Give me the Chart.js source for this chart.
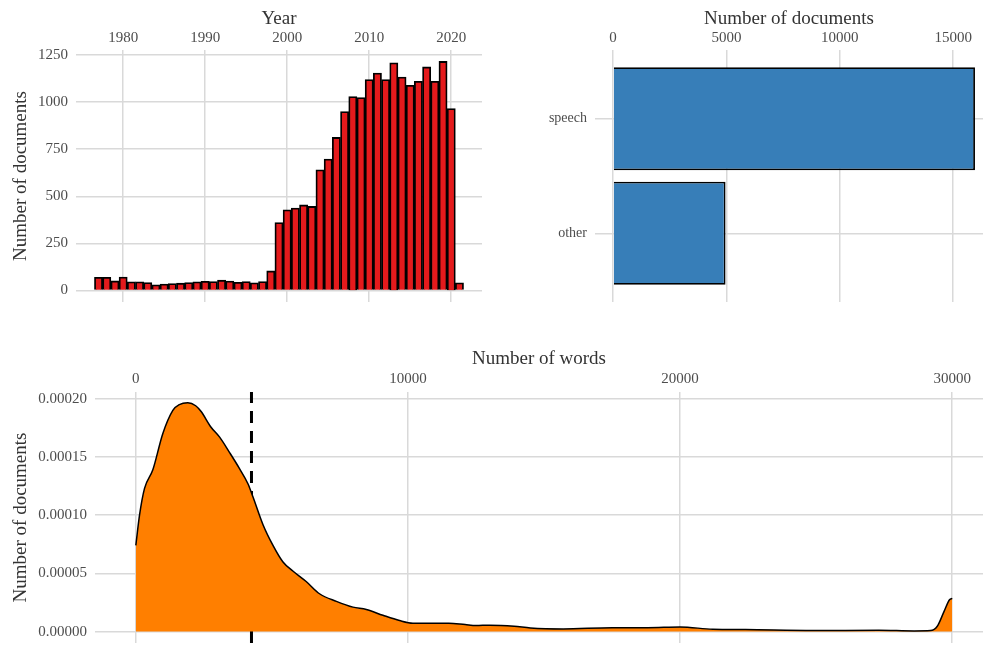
<!DOCTYPE html>
<html>
<head>
<meta charset="utf-8">
<script src="https://cdn.jsdelivr.net/npm/chart.js@4.4.0/dist/chart.umd.min.js"></script>
<style>
  body { margin: 0; background: #fff; }
  #wrap { position: relative; width: 983px; height: 646px; }
  canvas { position: absolute; }
</style>
</head>
<body>
<div id="wrap">
  <canvas id="yearChart" width="490" height="310" style="left:0;top:0;width:490px;height:310px"></canvas>
  <canvas id="typeChart" width="493" height="310" style="left:490px;top:0;width:493px;height:310px"></canvas>
  <canvas id="wordsChart" width="983" height="326" style="left:0;top:320px;width:983px;height:326px"></canvas>
</div>
<script>
// documents per year
const years = [1977, 1978, 1979, 1980, 1981, 1982, 1983, 1984, 1985, 1986, 1987, 1988, 1989, 1990, 1991,
  1992, 1993, 1994, 1995, 1996, 1997, 1998, 1999, 2000, 2001, 2002, 2003, 2004, 2005, 2006, 2007, 2008,
  2009, 2010, 2011, 2012, 2013, 2014, 2015, 2016, 2017, 2018, 2019, 2020, 2021];
const yearCounts = [70, 70, 51, 72, 46, 46, 42, 30, 34, 37, 39, 42, 46, 49, 48,
  55, 50, 44, 48, 41, 48, 104, 361, 428, 437, 454, 446, 640, 697, 812, 949, 1029,
  1024, 1119, 1153, 1119, 1208, 1132, 1089, 1110, 1186, 1110, 1215, 965, 41];
const yearTicks = [1980, 1990, 2000, 2010, 2020];
const countTicks = [0, 250, 500, 750, 1000, 1250];

// documents per type
const docTypes = ['speech', 'other'];
const docTypeCounts = [15960, 4960];
const typeTicks = [0, 5000, 10000, 15000];

// density of number of words
const wordsX = [0, 136, 320, 625, 990, 1360, 1600, 1910, 2200, 2400, 2750, 3080, 3440, 3810, 4120, 4300,
  4670, 5040, 5400, 5770, 6260, 6750, 7370, 7980, 8470, 9080, 9690, 10180, 10900, 11500, 12100,
  12500, 13000, 13900, 14500, 15700, 17500, 18800, 20000, 21200, 22400, 24900, 27300, 28600, 29200,
  29450, 29700, 29900, 30000];
const wordsDensity = [7.4, 10.0, 12.3, 13.9, 17.0, 19.0, 19.5, 19.65, 19.4, 18.9, 17.6, 16.7, 15.4, 14.0,
  12.7, 11.6, 9.2, 7.4, 6.0, 5.2, 4.3, 3.25, 2.6, 2.1, 1.9, 1.4, 0.95, 0.72, 0.71, 0.72, 0.6,
  0.52, 0.55, 0.46, 0.31, 0.23, 0.34, 0.34, 0.4, 0.2, 0.17, 0.09, 0.11, 0.06, 0.09, 0.46, 1.74, 2.74, 2.85]
  .map(v => v * 1e-5);
const meanWords = 4250;
const densityTicks = [0, 0.00005, 0.0001, 0.00015, 0.0002];
const wordTicks = [0, 10000, 20000, 30000];

const serif = "'Liberation Serif', 'DejaVu Serif', serif";
const gridColor = '#d9d9d9';
const tickFont = { family: serif, size: 15 };
const titleFont = { family: serif, size: 19 };

function fixedTicks(values) {
    return function(scale) {
        scale.ticks = values.map(v => ({ value: v }));
    };
}

// fixed axis box size, and no extra room for overflowing labels
function fixedSize(size) {
    return function(scale) {
        if (scale.isHorizontal()) {
            scale.height = size;
        } else {
            scale.width = size;
        }
        scale.paddingTop = 0;
        scale.paddingBottom = 0;
        scale.paddingLeft = 0;
        scale.paddingRight = 0;
    };
}

function plainLabel(value) {
    return String(value);
}

document.addEventListener('DOMContentLoaded', function() {
    initializeCharts();
});

function initializeCharts() {
    // Year histogram
    new Chart(document.getElementById('yearChart'), {
        type: 'bar',
        data: {
            datasets: [{
                data: years.map((y, i) => ({ x: y, y: yearCounts[i] })),
                backgroundColor: '#E41A1C',
                borderColor: '#000',
                borderWidth: 1.8,
                barPercentage: 1,
                categoryPercentage: 1
            }]
        },
        options: {
            responsive: false,
            animation: false,
            layout: { padding: { right: 8, bottom: 8 } },
            plugins: { legend: { display: false }, tooltip: { enabled: false } },
            scales: {
                x: {
                    type: 'linear',
                    position: 'top',
                    offset: false,
                    min: 1974.25,
                    max: 2023.75,
                    afterBuildTicks: fixedTicks(yearTicks),
                    afterFit: fixedSize(50),
                    grid: { color: gridColor, lineWidth: 1.5, drawTicks: false, offset: false },
                    border: { display: false },
                    ticks: { font: tickFont, color: '#4d4d4d', padding: 3, maxRotation: 0, callback: plainLabel },
                    title: { display: true, text: 'Year', font: titleFont, color: '#333', padding: { top: 8 } }
                },
                y: {
                    min: -60.75,
                    max: 1275.75,
                    afterBuildTicks: fixedTicks(countTicks),
                    afterFit: fixedSize(76),
                    grid: { color: gridColor, lineWidth: 1.5, drawTicks: false },
                    border: { display: false },
                    ticks: { font: tickFont, color: '#4d4d4d', padding: 8, callback: plainLabel },
                    title: { display: true, text: 'Number of documents', font: titleFont, color: '#333', padding: { top: 10 } }
                }
            }
        }
    });

    // Document types
    new Chart(document.getElementById('typeChart'), {
        type: 'bar',
        data: {
            datasets: [{
                data: docTypes.map((t, i) => ({ y: docTypes.length - i, x: docTypeCounts[i] })),
                backgroundColor: '#377EB8',
                borderColor: '#000',
                borderWidth: 1.8,
                barPercentage: 0.9,
                categoryPercentage: 1
            }]
        },
        options: {
            indexAxis: 'y',
            responsive: false,
            animation: false,
            layout: { padding: { right: 0, bottom: 8 } },
            plugins: { legend: { display: false }, tooltip: { enabled: false } },
            scales: {
                x: {
                    type: 'linear',
                    position: 'top',
                    min: -798,
                    max: 16314,
                    afterBuildTicks: fixedTicks(typeTicks),
                    afterFit: fixedSize(50),
                    grid: { color: gridColor, lineWidth: 1.5, drawTicks: false },
                    border: { display: false },
                    ticks: { font: tickFont, color: '#4d4d4d', padding: 3, maxRotation: 0, callback: plainLabel },
                    title: { display: true, text: 'Number of documents', font: titleFont, color: '#333', padding: { top: 8 } }
                },
                y: {
                    type: 'linear',
                    offset: false,
                    min: 0.4,
                    max: 2.6,
                    afterBuildTicks: fixedTicks(docTypes.map((t, i) => docTypes.length - i)),
                    afterFit: fixedSize(105),
                    grid: { color: gridColor, lineWidth: 1.5, drawTicks: false, offset: false },
                    border: { display: false },
                    ticks: {
                        font: { family: serif, size: 14 },
                        color: '#4d4d4d',
                        padding: 8,
                        callback: function(value) {
                            return docTypes[docTypes.length - value] || '';
                        }
                    }
                }
            }
        }
    });

    // Words density
    new Chart(document.getElementById('wordsChart'), {
        type: 'line',
        data: {
            datasets: [{
                data: wordsX.map((x, i) => ({ x: x, y: wordsDensity[i] })),
                borderColor: '#000',
                borderWidth: 1.5,
                backgroundColor: '#FF7F00',
                fill: 'origin',
                pointRadius: 0,
                cubicInterpolationMode: 'monotone'
            }, {
                data: [{ x: meanWords, y: -0.0000098 }, { x: meanWords, y: 0.0002058 }],
                borderColor: '#000',
                borderWidth: 3,
                borderDash: [12, 8],
                pointRadius: 0,
                fill: false
            }]
        },
        options: {
            responsive: false,
            animation: false,
            layout: { padding: { right: 0, bottom: 3 } },
            plugins: { legend: { display: false }, tooltip: { enabled: false } },
            scales: {
                x: {
                    type: 'linear',
                    position: 'top',
                    min: -1500,
                    max: 31130,
                    afterBuildTicks: fixedTicks(wordTicks),
                    afterFit: fixedSize(72),
                    grid: { color: gridColor, lineWidth: 1.5, drawTicks: false },
                    border: { display: false },
                    ticks: { font: tickFont, color: '#4d4d4d', padding: 4, maxRotation: 0, callback: plainLabel },
                    title: { display: true, text: 'Number of words', font: titleFont, color: '#333', padding: { top: 28 } }
                },
                y: {
                    min: -0.0000098,
                    max: 0.0002058,
                    afterBuildTicks: fixedTicks(densityTicks),
                    afterFit: fixedSize(95),
                    grid: { color: gridColor, lineWidth: 1.5, drawTicks: false },
                    border: { display: false },
                    ticks: {
                        font: tickFont,
                        color: '#4d4d4d',
                        padding: 8,
                        callback: function(value) { return value.toFixed(5); }
                    },
                    title: { display: true, text: 'Number of documents', font: titleFont, color: '#333', padding: { top: 10 } }
                }
            }
        }
    });
}
</script>
</body>
</html>
